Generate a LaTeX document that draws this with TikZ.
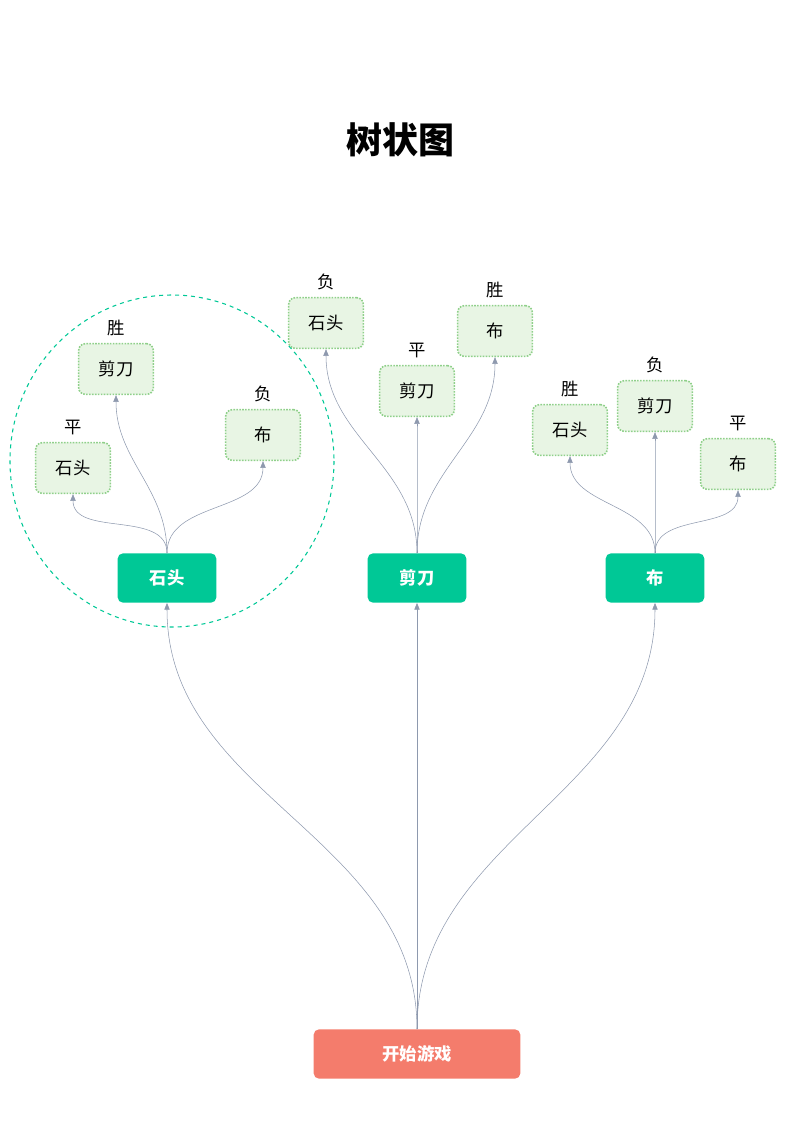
\documentclass[tikz,border=0pt]{standalone}
\usepackage{fontspec}
\setmainfont{Noto Sans CJK SC}
\usetikzlibrary{arrows.meta, positioning}
\definecolor{mint}{HTML}{00C896}
\definecolor{salmon}{HTML}{F47C6C}
\definecolor{leaffill}{HTML}{E8F5E4}
\definecolor{leafline}{HTML}{8FD08A}
\definecolor{wire}{HTML}{8E99AE}
\begin{document}
\begin{tikzpicture}[
    x=0.75pt, y=-0.75pt,
    choice/.style={rectangle, fill=mint, rounded corners=4pt, minimum width=74pt, minimum height=37pt, align=center, font=\fontsize{13}{15}\selectfont\bfseries, text=white},
    start/.style={rectangle, fill=salmon, rounded corners=4pt, minimum width=155pt, minimum height=37pt, font=\fontsize{13}{15}\selectfont\bfseries, text=white},
    leaf/.style={rectangle, draw=leafline, densely dotted, line width=1.2pt, fill=leaffill, rounded corners=5pt, minimum width=56pt, minimum height=38pt, font=\fontsize{13}{15}\selectfont},
    result/.style={font=\fontsize{13}{15}\selectfont},
    arrow/.style={-{Triangle[length=5pt, width=4pt]}, wire, thin},
]
\useasboundingbox (0,0) rectangle (800,1131);

% Title
\node[font=\fontsize{27}{30}\selectfont\bfseries] (title) at (400,140) {树状图};

% Group outline
\draw[mint, dashed, thick] (172,461) ellipse [x radius=162, y radius=166];

% First move
\node[start] (root) at (417,1054) {开始游戏};
\node[choice] (rock) at (167,578) {石头};
\node[choice] (scissors) at (417,578) {剪刀};
\node[choice] (paper) at (655,578) {布};

% Outcomes
\node[leaf] (rr) at (73,468) {石头};
\node[leaf] (rs) at (116,369) {剪刀};
\node[leaf] (rp) at (263,435) {布};
\node[leaf] (sr) at (326,323) {石头};
\node[leaf] (ss) at (417,391) {剪刀};
\node[leaf] (sp) at (495,331) {布};
\node[leaf] (pr) at (570,430) {石头};
\node[leaf] (ps) at (655,406) {剪刀};
\node[leaf] (pp) at (738,464) {布};

\node[result, above=2pt of rr] {平};
\node[result, above=2pt of rs] {胜};
\node[result, above=2pt of rp] {负};
\node[result, above=2pt of sr] {负};
\node[result, above=2pt of ss] {平};
\node[result, above=2pt of sp] {胜};
\node[result, above=2pt of pr] {胜};
\node[result, above=2pt of ps] {负};
\node[result, above=2pt of pp] {平};

% Arrows
\draw[arrow] (root.north) to[out=90, in=-90] (rock.south);
\draw[arrow] (root.north) -- (scissors.south);
\draw[arrow] (root.north) to[out=90, in=-90] (paper.south);
\foreach \p/\l in {rock/rr, rock/rs, rock/rp, scissors/sr, scissors/ss, scissors/sp, paper/pr, paper/ps, paper/pp}
    \draw[arrow] (\p.north) to[out=90, in=-90] (\l.south);

\end{tikzpicture}
\end{document}
